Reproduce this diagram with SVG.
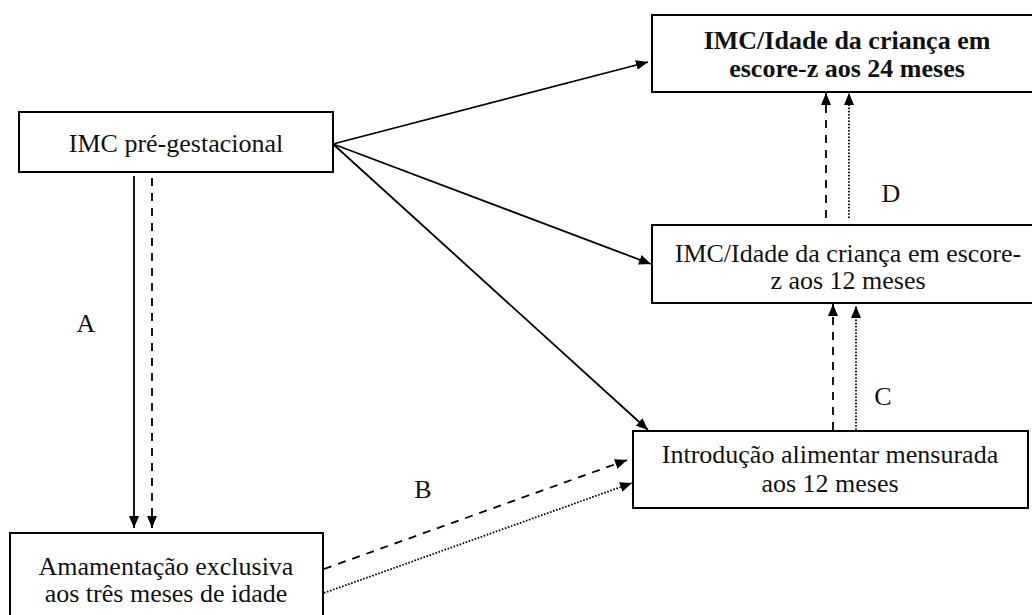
<svg xmlns="http://www.w3.org/2000/svg" width="1032" height="615" viewBox="0 0 1032 615">
  <style>
    .box { fill: #ffffff; stroke: #000000; stroke-width: 2; }
    .lbl { font-family: "Liberation Serif", "Times New Roman", serif; font-size: 26px; fill: #111111; text-anchor: middle; }
    .bold { font-weight: bold; }
    .edge { fill: none; stroke: #000000; stroke-width: 1.8; }
    .dash { stroke-dasharray: 8 7; }
    .dot { stroke-dasharray: 1.6 1.6; }
  </style>
  <defs>
    <marker id="head" viewBox="0 0 12 10" refX="12" refY="5" markerWidth="12" markerHeight="10" markerUnits="userSpaceOnUse" orient="auto">
      <path d="M0,0 L12,5 L0,10 Z" fill="#000000"/>
    </marker>
  </defs>

  <rect width="1032" height="615" fill="#ffffff"/>

  <!-- connectors -->
  <g id="connectors">
    <!-- from pre-pregnancy BMI -->
    <line class="edge" x1="333" y1="144" x2="648" y2="62" marker-end="url(#head)"/>
    <line class="edge" x1="333" y1="144" x2="651" y2="264" marker-end="url(#head)"/>
    <line class="edge" x1="333" y1="144" x2="648" y2="430" marker-end="url(#head)"/>
    <!-- A -->
    <line class="edge" x1="134" y1="176" x2="134" y2="528" marker-end="url(#head)"/>
    <line class="edge dash" x1="152" y1="178" x2="152" y2="528" marker-end="url(#head)"/>
    <!-- B -->
    <line class="edge dash" x1="324" y1="569" x2="627" y2="460" marker-end="url(#head)"/>
    <line class="edge dot" x1="324" y1="593" x2="632" y2="483" marker-end="url(#head)"/>
    <!-- C -->
    <line class="edge dash" x1="833" y1="430" x2="833" y2="304" marker-end="url(#head)"/>
    <line class="edge dot" x1="856" y1="430" x2="856" y2="306" marker-end="url(#head)"/>
    <!-- D -->
    <line class="edge dash" x1="826" y1="218" x2="826" y2="93" marker-end="url(#head)"/>
    <line class="edge dot" x1="849" y1="218" x2="849" y2="93" marker-end="url(#head)"/>

    <text class="lbl" x="86" y="332">A</text>
    <text class="lbl" x="423" y="498">B</text>
    <text class="lbl" x="883" y="405">C</text>
    <text class="lbl" x="891" y="202">D</text>
  </g>

  <g id="node-imc-pregestacional">
    <rect class="box" x="19" y="112" width="314" height="60"/>
    <text class="lbl" x="176" y="152">IMC pré-gestacional</text>
  </g>

  <g id="node-imc-24">
    <rect class="box" x="652" y="15" width="392" height="77"/>
    <text class="lbl bold" x="847" y="49">IMC/Idade da criança em</text>
    <text class="lbl bold" x="847" y="77">escore-z aos 24 meses</text>
  </g>

  <g id="node-imc-12">
    <rect class="box" x="652" y="225" width="392" height="78"/>
    <text class="lbl" x="848" y="262">IMC/Idade da criança em escore-</text>
    <text class="lbl" x="848" y="289">z aos 12 meses</text>
  </g>

  <g id="node-introducao">
    <rect class="box" x="633" y="431" width="395" height="77"/>
    <text class="lbl" x="830" y="463">Introdução alimentar mensurada</text>
    <text class="lbl" x="830" y="492">aos 12 meses</text>
  </g>

  <g id="node-amamentacao">
    <rect class="box" x="10" y="533" width="313" height="100"/>
    <text class="lbl" x="166" y="575">Amamentação exclusiva</text>
    <text class="lbl" x="166" y="602">aos três meses de idade</text>
  </g>
</svg>
